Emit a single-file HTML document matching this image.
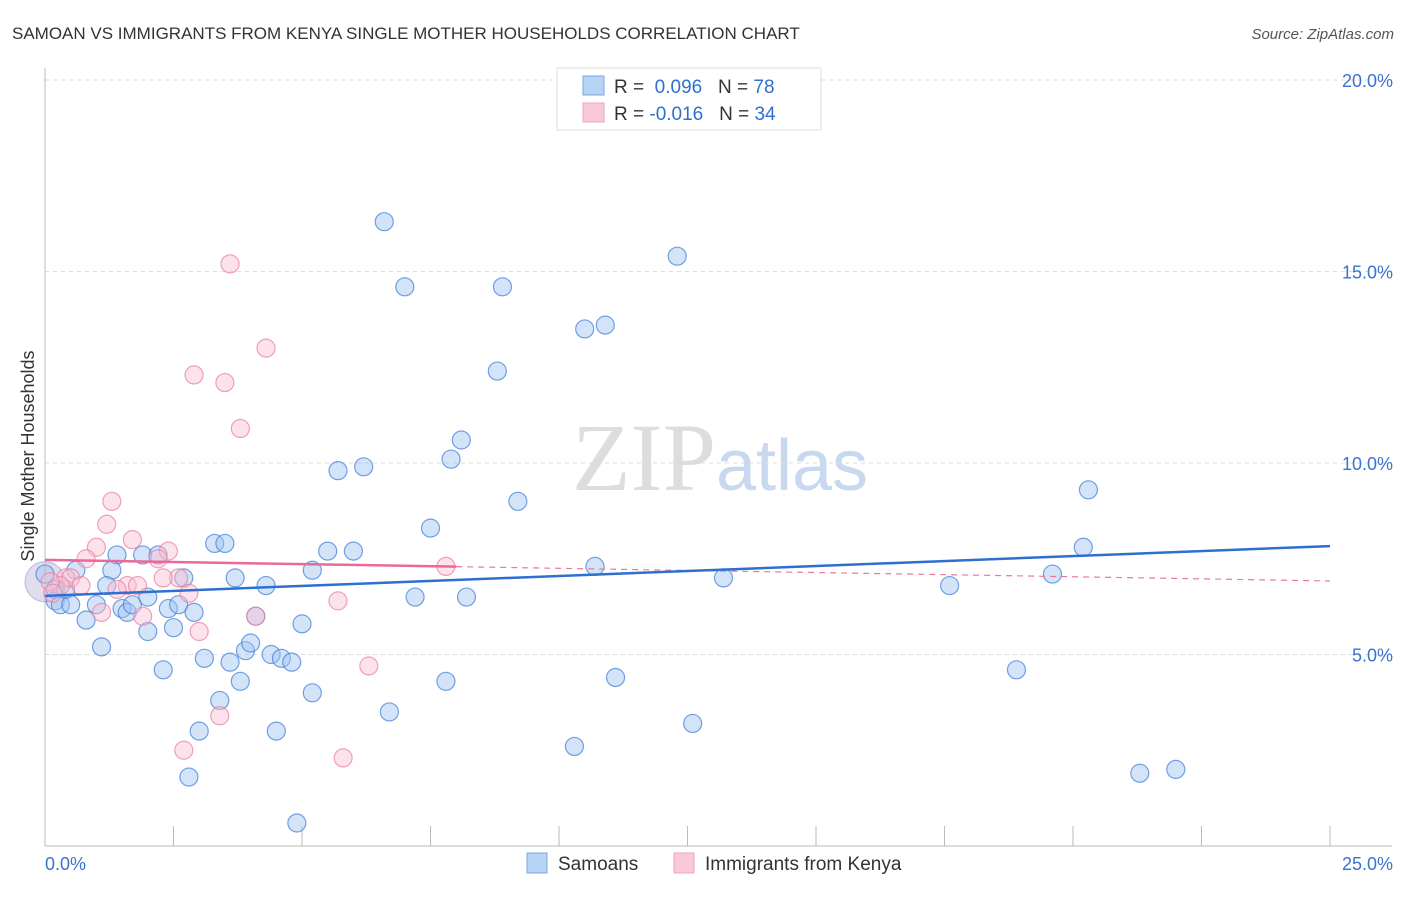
<!DOCTYPE html>
<html><head><meta charset="utf-8"><style>
body{margin:0;background:#fff;font-family:"Liberation Sans",sans-serif}
</style></head><body>
<svg id="c" width="1406" height="892" xmlns="http://www.w3.org/2000/svg" font-family="Liberation Sans, sans-serif">
<text x="12" y="39" font-size="17" fill="#333">SAMOAN VS IMMIGRANTS FROM KENYA SINGLE MOTHER HOUSEHOLDS CORRELATION CHART</text>
<text x="1394" y="39" font-size="15" fill="#555" text-anchor="end" font-style="italic">Source: ZipAtlas.com</text>
<text x="720" y="490" font-size="96" text-anchor="middle" fill="#ddd" font-family="Liberation Serif, serif">ZIP<tspan fill="#c8d8ee" font-family="Liberation Sans, sans-serif" font-size="72">atlas</tspan></text>
<g id="grid"></g><g id="marks"></g>
<text transform="translate(34,456) rotate(-90)" font-size="18" fill="#333" text-anchor="middle">Single Mother Households</text>
<g>
<rect x="557" y="68" width="264" height="62" fill="#fff" stroke="#ddd"/>
<rect x="583" y="76" width="21" height="19" fill="#b8d4f4" stroke="#7aa6e0"/>
<rect x="583" y="103" width="21" height="19" fill="#f9c9d8" stroke="#eda3bb"/>
<text x="614" y="93" font-size="19" fill="#333">R = <tspan fill="#2f6fd0">&#160;0.096</tspan>&#160;&#160;&#160;N = <tspan fill="#2f6fd0">78</tspan></text>
<text x="614" y="120" font-size="19" fill="#333">R = <tspan fill="#2f6fd0">-0.016</tspan>&#160;&#160;&#160;N = <tspan fill="#2f6fd0">34</tspan></text>
</g>
<g>
<rect x="527" y="853" width="20" height="20" fill="#b8d4f4" stroke="#7aa6e0"/>
<text x="558" y="870" font-size="19" fill="#333">Samoans</text>
<rect x="674" y="853" width="20" height="20" fill="#f9c9d8" stroke="#eda3bb"/>
<text x="705" y="870" font-size="19" fill="#333">Immigrants from Kenya</text>
</g>
</svg>
<script>
const yTicks=[5,10,15,20];
const yTickLabels=["5.0%","10.0%","15.0%","20.0%"];
const xTickLabels=["0.0%","25.0%"];
const samoansX=[6.6,7.0,8.9,12.3,10.5,10.9,8.8,8.1,7.9,5.7,6.2,9.2,7.5,20.3,20.2,3.3,3.5,1.4,1.9,2.2,5.5,6.0,1.3,2.7,3.7,4.3,5.2,10.7,13.2,19.6,17.6,0.6,1.2,0.2,0.3,0.5,1.0,1.5,1.6,1.7,2.0,2.4,2.6,2.9,4.1,0.8,2.0,2.5,5.0,1.1,2.3,3.1,3.6,3.9,4.0,4.4,4.6,4.8,3.8,3.4,5.2,7.8,11.1,18.9,7.2,8.2,6.7,3.0,4.5,12.6,10.3,2.8,4.9,21.3,22.0,0.0,0.2,0.4];
const samoansY=[16.3,14.6,14.6,15.4,13.5,13.6,12.4,10.6,10.1,9.8,9.9,9.0,8.3,9.3,7.8,7.9,7.9,7.6,7.6,7.6,7.7,7.7,7.2,7.0,7.0,6.8,7.2,7.3,7.0,7.1,6.8,7.2,6.8,6.4,6.3,6.3,6.3,6.2,6.1,6.3,6.5,6.2,6.3,6.1,6.0,5.9,5.6,5.7,5.8,5.2,4.6,4.9,4.8,5.1,5.3,5.0,4.9,4.8,4.3,3.8,4.0,4.3,4.4,4.6,6.5,6.5,3.5,3.0,3.0,3.2,2.6,1.8,0.6,1.9,2.0,7.1,6.7,6.7];
const kenyaX=[3.6,4.3,2.9,3.5,3.8,1.3,1.2,1.7,1.0,0.8,2.4,2.2,7.8,2.6,2.3,0.4,0.5,0.7,0.3,1.6,1.8,2.8,1.4,1.1,1.9,4.1,3.0,5.7,6.3,3.4,2.7,5.8,0.1,0.15];
const kenyaY=[15.2,13.0,12.3,12.1,10.9,9.0,8.4,8.0,7.8,7.5,7.7,7.5,7.3,7.0,7.0,7.0,7.0,6.8,6.8,6.8,6.8,6.6,6.7,6.1,6.0,6.0,5.6,6.4,4.7,3.4,2.5,2.3,6.9,6.6];
const samoansTrend=[6.53,7.83];
const kenyaTrend=[7.47,6.92];
const kenyaSolidEnd=8.0;
const X=v=>45+v*51.4, Y=v=>846-v*38.3;
const NS="http://www.w3.org/2000/svg";
function mk(t,a,p){const e=document.createElementNS(NS,t);for(const k in a)e.setAttribute(k,a[k]);p.appendChild(e);return e;}
const g=document.getElementById('grid'), m=document.getElementById('marks');
yTicks.forEach((t,i)=>{
 const l=mk('line',{x1:45,x2:1392,y1:Y(t),y2:Y(t),stroke:'#ddd','stroke-dasharray':'4,4'},g);
 
 
 const tx=mk('text',{x:1393,y:Y(t)+7,'font-size':18,fill:'#3a72d0','text-anchor':'end'},g);
 tx.textContent=yTickLabels[i];
 
 
});
const ax=mk('line',{x1:45,x2:45,y1:68,y2:846,stroke:'#bbb'},g);


const bx=mk('line',{x1:45,x2:1392,y1:846,y2:846,stroke:'#bbb'},g);


for(let i=0;i<=10;i++){const v=i*2.5;const t=mk('line',{x1:X(v),x2:X(v),y1:826,y2:846,stroke:'#bbb'},g);
 
 }
[[0,'start',45],[25,'end',1393]].forEach((d,i)=>{const t=mk('text',{x:d[2],y:870,'font-size':18,fill:'#3a72d0','text-anchor':d[1]},g);t.textContent=xTickLabels[i];
 
 });
const big=mk('circle',{cx:X(0),cy:Y(6.9),r:20,fill:'rgba(190,180,215,0.45)',stroke:'rgba(140,150,210,0.6)'},m);


samoansX.forEach((x,i)=>{const c=mk('circle',{cx:X(x),cy:Y(samoansY[i]),r:9,fill:'rgba(160,196,240,0.45)',stroke:'rgba(70,130,220,0.75)','stroke-width':1.2},m);
 
 });
kenyaX.forEach((x,i)=>{const c=mk('circle',{cx:X(x),cy:Y(kenyaY[i]),r:9,fill:'rgba(248,190,210,0.45)',stroke:'rgba(235,130,165,0.75)','stroke-width':1.2},m);
 
 });
const kAt=v=>kenyaTrend[0]+(kenyaTrend[1]-kenyaTrend[0])*v/25;
let l1=mk('line',{x1:X(kenyaSolidEnd),y1:Y(kAt(kenyaSolidEnd)),x2:X(25),y2:Y(kenyaTrend[1]),stroke:'#e8799e','stroke-width':1.2,'stroke-dasharray':'6,5'},m);


let l2=mk('line',{x1:X(0),y1:Y(kenyaTrend[0]),x2:X(kenyaSolidEnd),y2:Y(kAt(kenyaSolidEnd)),stroke:'#e8699a','stroke-width':2.5},m);


let l3=mk('line',{x1:X(0),y1:Y(samoansTrend[0]),x2:X(25),y2:Y(samoansTrend[1]),stroke:'#2f6fd0','stroke-width':2.5},m);


</script>
</body></html>
